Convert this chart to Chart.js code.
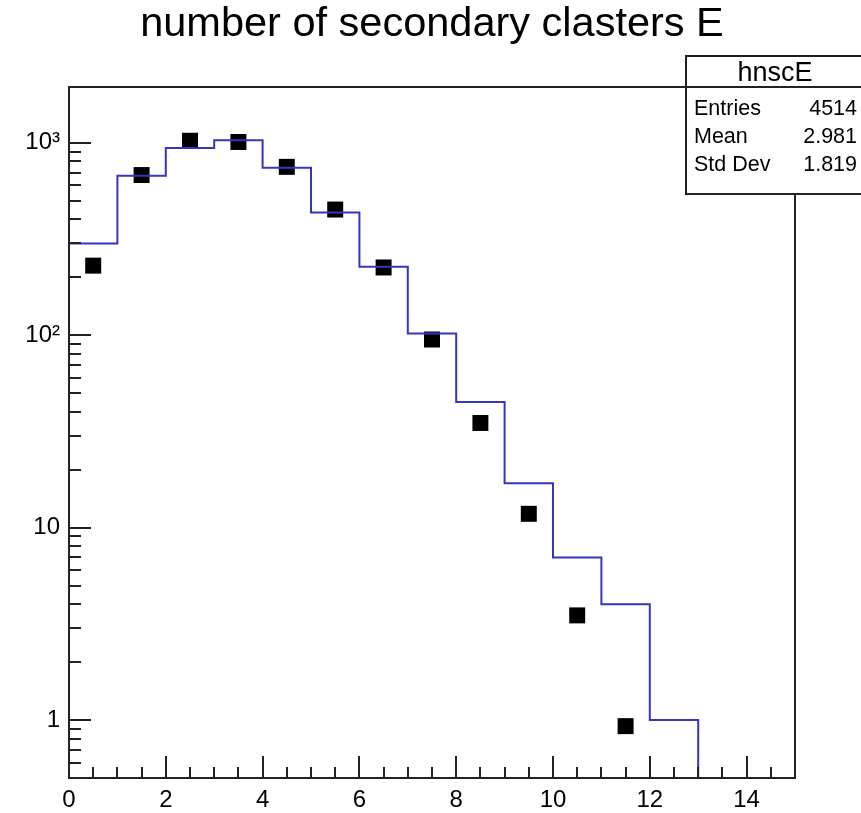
<!DOCTYPE html>
<html>
<head>
<meta charset="utf-8">
<script src="https://cdn.jsdelivr.net/npm/chart.js@4"></script>
<style>
    html, body { margin: 0; padding: 0; background: #fff; }
    #wrap { width: 861px; height: 813px; }
</style>
</head>
<body>
<div id="wrap"><canvas id="chart" width="861" height="813"></canvas></div>
<script>
// ─── Data ─────────────────────────────────────────────────
const TITLE = 'number of secondary clasters E';

// histogram bins: [i, i+1), i = 0..14
const BIN_LOW = [0, 1, 2, 3, 4, 5, 6, 7, 8, 9, 10, 11, 12, 13, 14];
const HIST_COUNTS = [300, 675, 940, 1030, 742, 434, 227, 102, 45, 17, 7, 4, 1, 0, 0];

// black square markers at bin centers
const POINT_X = [0.5, 1.5, 2.5, 3.5, 4.5, 5.5, 6.5, 7.5, 8.5, 9.5, 10.5, 11.5];
const POINT_Y = [230, 680, 1025, 1010, 750, 450, 225, 95, 35, 11.8, 3.5, 0.93];

const X_MIN = 0, X_MAX = 15;
const Y_MIN = 0.5, Y_MAX = 1950;
const Y_MAJOR = [1, 10, 100, 1000];
const Y_LABELS = ['1', '10', '10²', '10³'];

const STATS_NAME = 'hnscE';
const STATS_LABELS = ['Entries', 'Mean', 'Std Dev'];
const STATS_VALUES = ['4514', '2.981', '1.819'];

const FONT = "'Liberation Sans', Arial, sans-serif";
const FRAME = '#222';

// ─── Build step line from bins ────────────────────────────
let lastBin = 0;
HIST_COUNTS.forEach((c, i) => { if (c > 0) lastBin = i; });
const histPoints = [];
for (let i = 0; i <= lastBin; i++) histPoints.push({ x: BIN_LOW[i], y: HIST_COUNTS[i] });
histPoints.push({ x: BIN_LOW[lastBin] + 1, y: HIST_COUNTS[lastBin] });
histPoints.push({ x: BIN_LOW[lastBin] + 1, y: Y_MIN });

const markerPoints = POINT_X.map((x, i) => ({ x, y: POINT_Y[i] }));

// ─── ROOT-like frame, inner ticks, stats box ──────────────
const rootFrame = {
    id: 'rootFrame',
    afterDraw(chart) {
        const { ctx, chartArea: a, scales } = chart;
        const xs = scales.x, ys = scales.y;
        ctx.save();
        ctx.strokeStyle = FRAME;
        ctx.lineWidth = 2;
        ctx.strokeRect(a.left, a.top, a.right - a.left, a.bottom - a.top);

        ctx.beginPath();
        for (let v = X_MIN; v <= X_MAX - 0.25; v += 0.5) {
            const px = Math.round(xs.getPixelForValue(v));
            const len = v % 2 === 0 ? 22 : 11;
            ctx.moveTo(px, a.bottom);
            ctx.lineTo(px, a.bottom - len);
        }
        for (let d = 0.1; d <= 1000; d *= 10) {
            for (let k = 1; k <= 9; k++) {
                const v = k * d;
                if (v < Y_MIN || v > Y_MAX) continue;
                const py = Math.round(ys.getPixelForValue(v));
                const len = k === 1 ? 22 : 12;
                ctx.moveTo(a.left, py);
                ctx.lineTo(a.left + len, py);
            }
        }
        ctx.stroke();

        // stats box
        const bx = 686, by = 56, bw = 200, bh = 138, hh = 31;
        ctx.fillStyle = '#fff';
        ctx.fillRect(bx, by, bw, bh);
        ctx.lineWidth = 2;
        ctx.strokeRect(bx, by, bw, bh);
        ctx.beginPath();
        ctx.moveTo(bx, by + hh);
        ctx.lineTo(bx + bw, by + hh);
        ctx.stroke();

        ctx.fillStyle = '#000';
        ctx.textBaseline = 'middle';
        ctx.font = `27px ${FONT}`;
        ctx.textAlign = 'center';
        ctx.fillText(STATS_NAME, 775, by + 18);
        ctx.font = `21.5px ${FONT}`;
        STATS_LABELS.forEach((lab, i) => {
            const ty = 109.5 + i * 27.7;
            ctx.textAlign = 'left';
            ctx.fillText(lab, 694, ty);
            ctx.textAlign = 'right';
            ctx.fillText(STATS_VALUES[i], 857, ty);
        });
        ctx.restore();
    },
};

new Chart(document.getElementById('chart'), {
    type: 'scatter',
    data: {
        datasets: [
            {
                label: 'hist',
                data: histPoints,
                showLine: true,
                stepped: 'before',
                borderColor: '#3535c0',
                borderWidth: 2,
                pointRadius: 0,
                fill: false,
            },
            {
                label: 'points',
                data: markerPoints,
                showLine: false,
                pointStyle: 'rect',
                pointRadius: 11.3,
                pointBackgroundColor: '#000',
                pointBorderWidth: 0,
            },
        ],
    },
    options: {
        responsive: false,
        animation: false,
        events: [],
        layout: { padding: { left: 0, right: 66, top: 0, bottom: 0 } },
        plugins: {
            legend: { display: false },
            tooltip: { enabled: false },
            title: {
                display: true,
                fullSize: false,
                text: TITLE,
                color: '#000',
                font: { family: FONT, size: 41.5, weight: 'normal', lineHeight: 1.2 },
                padding: { top: 0, bottom: 37.2 },
            },
        },
        scales: {
            x: {
                type: 'linear',
                min: X_MIN,
                max: X_MAX,
                grid: { display: false, drawTicks: false },
                border: { display: false },
                ticks: {
                    stepSize: 2,
                    color: '#000',
                    padding: 8,
                    font: { family: FONT, size: 24 },
                    callback: v => (v < X_MAX ? String(v) : ''),
                },
                afterFit: s => { s.height = 35; },
            },
            y: {
                type: 'logarithmic',
                min: Y_MIN,
                max: Y_MAX,
                grid: { display: false, drawTicks: false },
                border: { display: false },
                afterBuildTicks: s => { s.ticks = Y_MAJOR.map(v => ({ value: v })); },
                ticks: {
                    color: '#000',
                    padding: 9,
                    font: { family: FONT, size: 24 },
                    callback: v => Y_LABELS[Y_MAJOR.indexOf(v)] || '',
                },
                afterFit: s => { s.width = 69; },
            },
        },
    },
    plugins: [rootFrame],
});
</script>
</body>
</html>
